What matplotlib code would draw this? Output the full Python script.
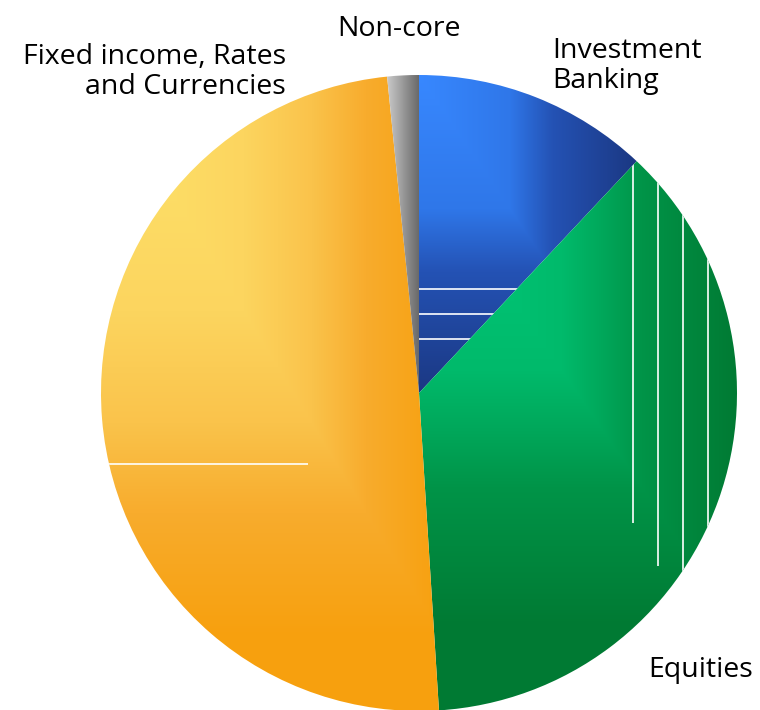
import numpy as np
import matplotlib.pyplot as plt
from matplotlib.colors import to_rgb

plt.rcParams['font.family'] = ['Open Sans', 'DejaVu Sans']

# Parts du résultat par division (en %)
divisions = ['Investment Banking', 'Equities', 'Fixed income, Rates and Currencies', 'Non-core']
parts = [12.0, 37.0, 49.4, 1.6]

W, H = 760, 710
cx, cy, rayon = 419, H - 393, 318

fig = plt.figure(figsize=(W / 100, H / 100), dpi=100)
ax = fig.add_axes([0, 0, 1, 1])

wedges, _ = ax.pie(parts, startangle=90, counterclock=False, center=(cx, cy),
                   radius=rayon, wedgeprops=dict(facecolor='none', edgecolor='none'))
ax.set_xlim(0, W)
ax.set_ylim(0, H)
ax.set_aspect('equal')
ax.axis('off')

# grille de pixels (y compté depuis le haut)
xx, yy = np.meshgrid(np.arange(W) + 0.5, np.arange(H) + 0.5)
yy_haut = H - yy


def couleurs(t, arrets):
    pos = [a[0] for a in arrets]
    rgb = np.array([to_rgb(a[1]) for a in arrets])
    return np.stack([np.interp(t, pos, rgb[:, k]) for k in range(3)], axis=-1)


def degrade_coin(x0, y0, sx, sy, arrets):
    # dégradé rectangulaire depuis le coin haut-gauche
    t = np.maximum(np.clip(xx - x0, 0, None) / sx, np.clip(yy_haut - y0, 0, None) / sy)
    return couleurs(np.clip(t, 0, 1), arrets)


def degrade_horizontal(x1, x2, arrets):
    t = np.clip((xx - x1) / (x2 - x1), 0, 1)
    return couleurs(t, arrets)


images = [
    degrade_coin(419, 75, 216, 318,
                 [(0, '#3888ff'), (0.42, '#2f77e9'), (0.62, '#2452b4'), (1, '#1b3883')]),
    degrade_coin(419, 162, 318, 464,
                 [(0, '#00cc7d'), (0.45, '#00ba6b'), (0.58, '#00a75a'), (0.7, '#009448'),
                  (1, '#007a33')]),
    degrade_coin(101, 76, 340, 560,
                 [(0, '#fde46c'), (0.42, '#fcd55f'), (0.62, '#fac34b'), (0.78, '#f8ac2d'),
                  (1, '#f7a00e')]),
    degrade_horizontal(386, 420, [(0, '#cdcdcd'), (1, '#666666')]),
]

for w, img in zip(wedges, images):
    im = ax.imshow(img, extent=(0, W, 0, H), origin='lower', interpolation='bilinear', zorder=1)
    im.set_clip_path(w)

# fines lignes blanches dans les secteurs
blanc = dict(color='white', lw=1.2, zorder=2, solid_capstyle='butt')
for y in [289, 314, 339]:
    l, = ax.plot([cx, cx + 250], [H - y, H - y], **blanc)
    l.set_clip_path(wedges[0])
for x, y_fin in [(633, 523), (658, 566), (683, 710), (708, 710)]:
    l, = ax.plot([x, x], [H - 100, H - y_fin], **blanc)
    l.set_clip_path(wedges[1])
l, = ax.plot([90, 308], [H - 464, H - 464], **blanc)
l.set_clip_path(wedges[2])

# étiquettes
txt = dict(fontsize=20.5, color='black', linespacing=1.1)
ax.text(552, H - 88, 'Investment\nBanking', ha='left', va='baseline', **txt)
ax.text(648, H - 677, 'Equities', ha='left', va='baseline', **txt)
ax.text(286, H - 94, 'Fixed income, Rates\nand Currencies', ha='right', va='baseline',
        multialignment='right', **txt)
ax.text(399, H - 36, 'Non-core', ha='center', va='baseline', **txt)

fig.savefig('out.png', dpi=100)
